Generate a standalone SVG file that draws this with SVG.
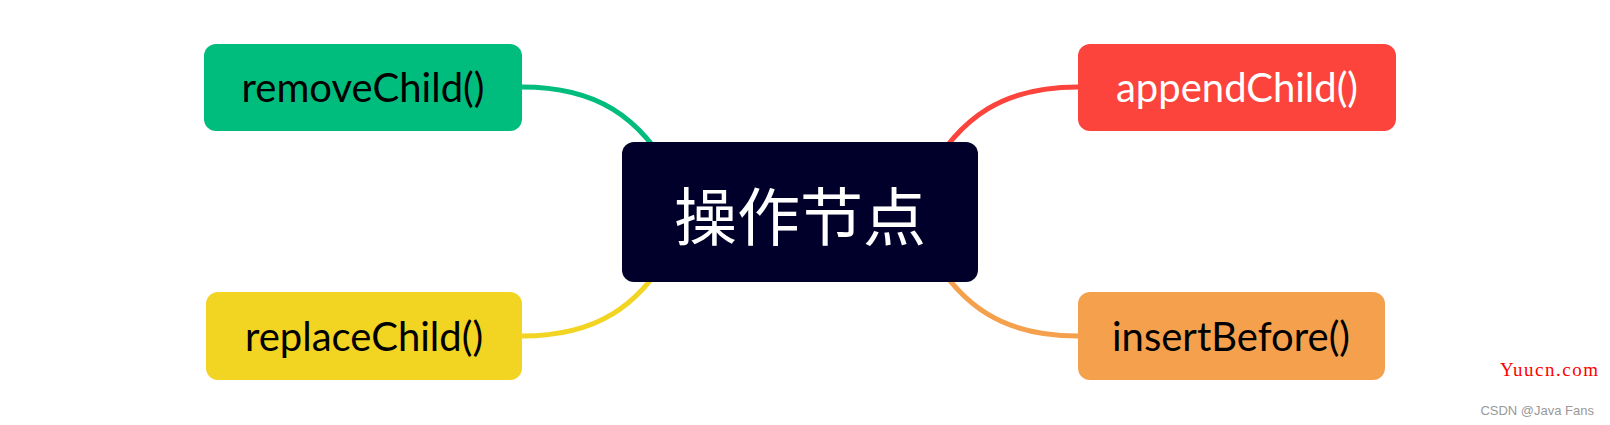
<svg xmlns="http://www.w3.org/2000/svg" width="1610" height="425" viewBox="0 0 1610 425">
<style>
.lbl{font-family:Lato,"Open Sans",sans-serif;font-size:40px;text-anchor:middle;dominant-baseline:central}
.c{fill:none;stroke-width:5;stroke-linecap:round}
</style>
<rect width="1610" height="425" fill="#fff"/>
<g id="connectors">
<path class="c" stroke="#00BD7E" d="M522,87 C595,87 640,115 675,180"/>
<path class="c" stroke="#FC433C" d="M1078,87 C1005,87 960,115 925,180"/>
<path class="c" stroke="#F2D422" d="M522,336 C595,336 640,308 675,243"/>
<path class="c" stroke="#F5A04D" d="M1078,336 C1005,336 960,308 925,243"/>
</g>
<g id="center">
<rect x="622" y="142" width="356" height="140" rx="12" fill="#00002A"/>
<text x="800" y="212" font-family="'Noto Sans CJK SC',sans-serif" font-size="63" fill="#fff" text-anchor="middle" dominant-baseline="central">操作节点</text>
</g>
<g id="removeChild">
<rect x="204" y="44" width="318" height="87" rx="12" fill="#00BD7E"/>
<text class="lbl" x="363" y="87" fill="#000">removeChild()</text>
</g>
<g id="appendChild">
<rect x="1078" y="44" width="318" height="87" rx="12" fill="#FC433C"/>
<text class="lbl" x="1237" y="87" fill="#fff">appendChild()</text>
</g>
<g id="replaceChild">
<rect x="206" y="292" width="316" height="88" rx="12" fill="#F2D422"/>
<text class="lbl" x="364" y="336" fill="#000">replaceChild()</text>
</g>
<g id="insertBefore">
<rect x="1078" y="292" width="307" height="88" rx="12" fill="#F5A04D"/>
<text class="lbl" x="1231" y="336" fill="#000">insertBefore()</text>
</g>
<text x="1500" y="376" font-family="'Liberation Serif',serif" font-size="19" fill="#F00" textLength="98" lengthAdjust="spacing">Yuucn.com</text>
<text x="1594" y="415" font-family="'Liberation Sans',sans-serif" font-size="13" fill="#999" text-anchor="end">CSDN @Java Fans</text>
</svg>
